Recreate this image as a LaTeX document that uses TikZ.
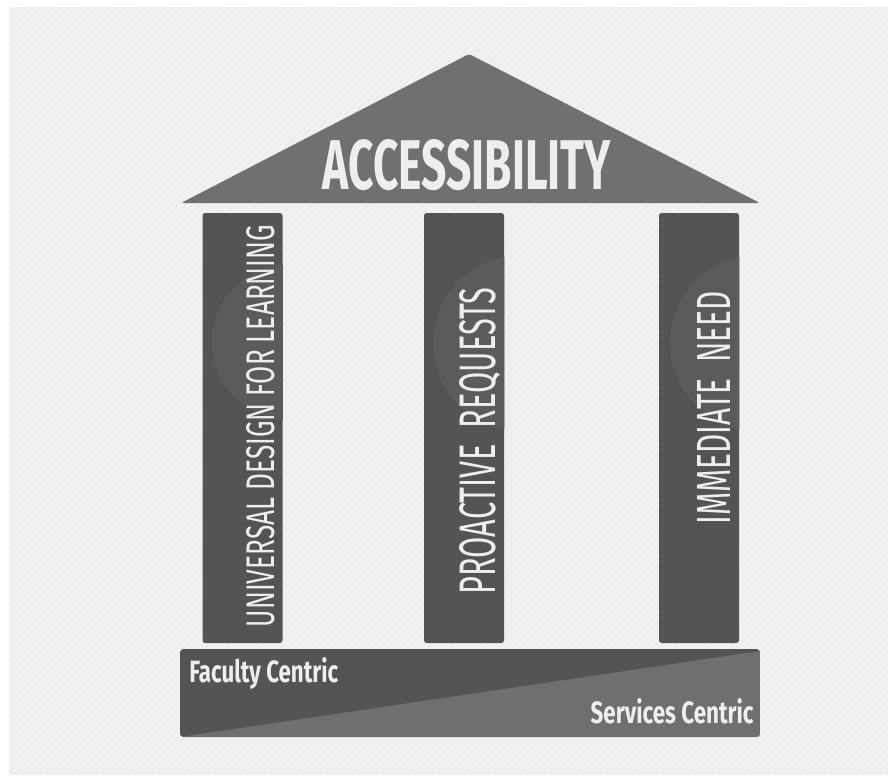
\documentclass[tikz,border=0pt]{standalone}
\usepackage{fontspec}
\setmainfont{Fira Sans}
\usepackage{graphicx}
\usetikzlibrary{positioning}

\definecolor{bggray}{HTML}{ECECEC}
\definecolor{stripegray}{HTML}{F2F2F2}
\definecolor{roofgray}{HTML}{707070}
\definecolor{pillargray}{HTML}{545454}
\definecolor{glowgray}{HTML}{5B5B5B}
\definecolor{basedark}{HTML}{545454}
\definecolor{baselight}{HTML}{6F6F6F}
\definecolor{textwhite}{HTML}{EEEEEE}

\newdimen\pxu \pxu=0.02cm

\tikzset{
  pillar/.style={fill=pillargray, rounded corners=1.5pt, inner sep=0pt,
    minimum width=80\pxu, minimum height=430\pxu},
  pillartext/.style={text=textwhite, inner sep=0pt, rotate=90},
  captext/.style={text=textwhite, inner sep=0pt}
}

\begin{document}
\begin{tikzpicture}[x=0.02cm, y=-0.02cm]
 \useasboundingbox (0,0) rectangle (888,775);

	% Background
 \fill[bggray] (9,7) rectangle (888,775);
 \begin{scope}
  \clip (9,7) rectangle (888,775);
  \foreach \a in {-780,-773,...,890}
   \draw[stripegray, line width=3\pxu] (\a,775) -- (\a+775,0);
 \end{scope}

	% Roof
 \fill[roofgray, rounded corners=1.5pt] (181,203) -- (469,54) -- (760,203) -- cycle;
 \node[captext] (roof) at (467,165) {\resizebox{288\pxu}{50\pxu}{\bfseries ACCESSIBILITY}};

	% Pillars
 \node[pillar] (udl) at (242.5,428) {};
 \node[pillar] (pro) at (464,428) {};
 \node[pillar] (imm) at (699,428) {};

 \begin{scope}
  \clip[rounded corners=1.5pt] (udl.south west) rectangle (udl.north east);
  \fill[glowgray] (290,342) circle[radius=1.56cm];
 \end{scope}
 \begin{scope}
  \clip[rounded corners=1.5pt] (pro.south west) rectangle (pro.north east);
  \fill[glowgray] (521,343) circle[radius=1.76cm];
 \end{scope}
 \begin{scope}
  \clip[rounded corners=1.5pt] (imm.south west) rectangle (imm.north east);
  \fill[glowgray] (758,343) circle[radius=1.76cm];
 \end{scope}

 \node[pillartext] (udltext) at (261,426) {\resizebox{402\pxu}{28\pxu}{UNIVERSAL DESIGN FOR LEARNING}};
 \node[pillartext] (protext) at (480,441) {\resizebox{307\pxu}{36\pxu}{PROACTIVE\ \ REQUESTS}};
 \node[pillartext] (immtext) at (713.5,408) {\resizebox{233\pxu}{33\pxu}{IMMEDIATE\ \ NEED}};

	% Base
 \begin{scope}
  \clip[rounded corners=2pt] (180,649) rectangle (760,737);
  \fill[basedark] (180,649) rectangle (760,737);
  \fill[baselight] (180,737) -- (760,651) -- (760,737) -- cycle;
 \end{scope}
 \node[captext, anchor=base west] (faculty) at (189,682) {\resizebox{149\pxu}{25\pxu}{\bfseries Faculty Centric}};
 \node[captext, anchor=base east] (services) at (754,723) {\resizebox{163\pxu}{25\pxu}{\bfseries Services Centric}};

\end{tikzpicture}
\end{document}
